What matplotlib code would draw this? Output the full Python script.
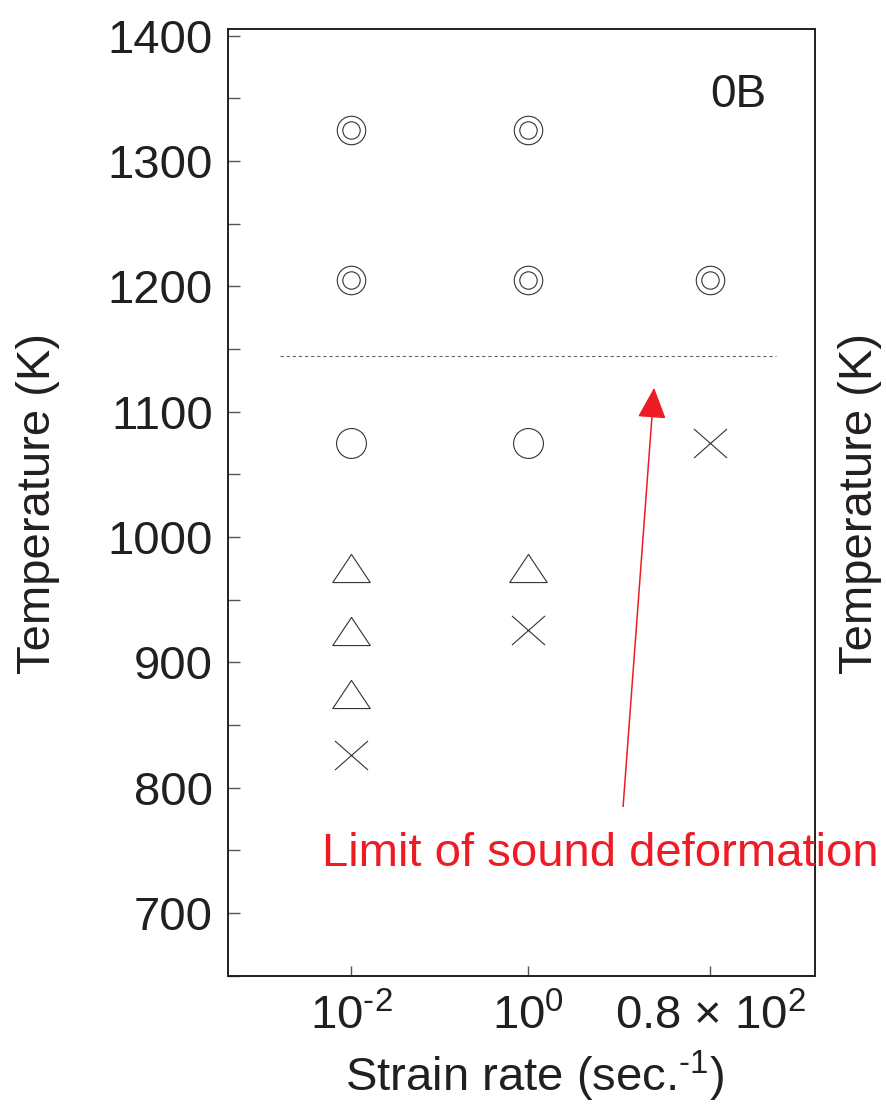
import matplotlib
matplotlib.use("Agg")
import matplotlib.pyplot as plt
from matplotlib.path import Path

plt.rcParams['font.family'] = ['Liberation Sans', 'DejaVu Sans']
plt.rcParams['mathtext.fontset'] = 'custom'
plt.rcParams['mathtext.rm'] = 'Liberation Sans'
plt.rcParams['mathtext.it'] = 'Liberation Sans:italic'
plt.rcParams['mathtext.default'] = 'regular'

ink = '#231f20'
mark = '#333333'
red = '#ed1c24'

# strain-rate categories (x) and test temperatures (K)
rate_labels = ['10$^{\\text{-}2}$', '10$^{0}$', '0.8 × 10$^{2}$']
rate_pos = [0, 1, 2.03]

# sound deformation, double circle
sound_x = [0, 1, 0, 1, 2.03]
sound_T = [1325, 1325, 1205, 1205, 1205]
# circle
circ_x = [0, 1]
circ_T = [1075, 1075]
# triangle
tri_x = [0, 0, 0, 1]
tri_T = [975, 925, 875, 975]
# cross
cross_x = [0, 1, 2.03]
cross_T = [826, 926, 1075]

limit_T = 1144
limit_span = (-0.40, 2.40)
arrow_tail = (1.537, 785)
arrow_tip = (1.712, 1119)

tri_marker = Path([(-1, -0.75), (1, -0.75), (0, 0.75), (-1, -0.75)],
                  [Path.MOVETO, Path.LINETO, Path.LINETO, Path.CLOSEPOLY])
cross_marker = Path([(-1, -0.88), (1, 0.88), (-1, 0.88), (1, -0.88)],
                    [Path.MOVETO, Path.LINETO, Path.MOVETO, Path.LINETO])

fig = plt.figure(figsize=(8.86, 11.05), dpi=100)
ax = fig.add_axes([228 / 886, 1 - 975.7 / 1105, 587 / 886, 946.4 / 1105])

lw = 0.8
ax.plot(sound_x, sound_T, 'o', ms=20.5, mfc='none', mec=mark, mew=lw)
ax.plot(sound_x, sound_T, 'o', ms=12.5, mfc='none', mec=mark, mew=lw)
ax.plot(circ_x, circ_T, 'o', ms=21.5, mfc='none', mec=mark, mew=lw)
ax.plot(tri_x, tri_T, ls='none', marker=tri_marker, ms=27, mfc='none', mec=mark, mew=lw)
ax.plot(cross_x, cross_T, ls='none', marker=cross_marker, ms=23.8, mfc='none', mec=mark, mew=lw)

ax.hlines(limit_T, *limit_span, colors='#666666', linestyles=(0, (3, 2.5)), lw=0.8)

ax.annotate('', xy=arrow_tip, xytext=arrow_tail,
            arrowprops=dict(arrowstyle='-|>,head_length=0.97,head_width=0.45',
                            color=red, lw=1.1, shrinkA=0, shrinkB=0,
                            mutation_scale=20))
ax.text(-0.164, 737.5, 'Limit of sound deformation', color=red, fontsize=34,
        va='baseline', ha='left', clip_on=False)
ax.text(0.822, 0.918, '0B', transform=ax.transAxes, fontsize=33, color=ink,
        va='baseline', ha='left')

ax.set_xlim(-0.695, 2.621)
ax.set_ylim(655.3, 1405)
ax.set_yticks(range(700, 1401, 100))
ax.set_yticks(range(650, 1401, 50), minor=True)
ax.set_xticks(rate_pos)
ax.set_xticklabels(rate_labels)

ax.tick_params(axis='both', which='both', direction='in', color='#555555', width=1.0,
               labelsize=34, labelcolor=ink)
ax.tick_params(axis='y', which='both', length=8.6, pad=10.8)
ax.tick_params(axis='x', length=7.5, pad=13.5)
for s in ax.spines.values():
    s.set_linewidth(1.4)
    s.set_color(ink)

fig.text(38 / 886, 1 - 504 / 1105, 'Temperature (K)', rotation=90, fontsize=34,
         color=ink, ha='center', va='center')
fig.text(860 / 886, 1 - 504 / 1105, 'Temperature (K)', rotation=90, fontsize=34,
         color=ink, ha='center', va='center')
fig.text(535 / 886, 1 - 1091 / 1105, 'Strain rate (sec.$^{\\text{-}1}$)', fontsize=34,
         color=ink, ha='center', va='baseline')

fig.savefig('out.png', dpi=100)
